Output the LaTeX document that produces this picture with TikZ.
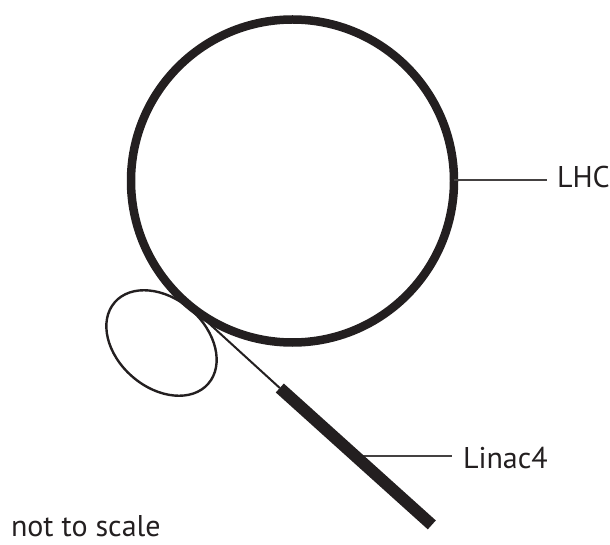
\documentclass[tikz,border=0pt]{standalone}
\usepackage{fontspec}
\setmainfont{PT Sans}
\usetikzlibrary{shapes.geometric,calc}
\definecolor{ink}{HTML}{231F20}
\begin{document}
\begin{tikzpicture}[x=1pt,y=-1pt,
  ring/.style={circle,draw=ink,line width=8.5pt,inner sep=0pt,outer sep=0pt,minimum size=323pt},
  booster/.style={ellipse,draw=ink,line width=2.4pt,inner sep=0pt,outer sep=0pt,minimum width=124pt,minimum height=89pt,rotate=-41},
  beam/.style={draw=ink,line width=2pt},
  linac/.style={draw=ink,line width=12pt,line cap=butt},
  leader/.style={draw=ink!85,line width=1.5pt},
  lbl/.style={anchor=base west,inner sep=0pt,outer sep=0pt,text=ink,font=\fontsize{30}{34}\selectfont}]
\useasboundingbox (0,0) rectangle (610,545);
\node[ring] (lhc) at (292.5,181) {};
\node[booster] (ps) at (161.5,343) {};
\coordinate (T) at (lhc.228);
\coordinate (A) at (279.8,388);
\coordinate (B) at (431.8,524.9);
\coordinate (lp) at (355.3,456);
\coordinate (le) at (452,456);
\coordinate (he) at (547,180);
\node[lbl] (lhclbl) at (557,188) {LHC};
\node[lbl] (linaclbl) at (463,468) {Linac4};
\node[lbl] (note) at (11,536) {not to scale};
\draw[leader] (lhc.east |- he) -- (he);
\draw[leader] (lp) -- (le);
\draw[beam] (T) -- (A);
\draw[linac] (A) -- (B);
\end{tikzpicture}
\end{document}
